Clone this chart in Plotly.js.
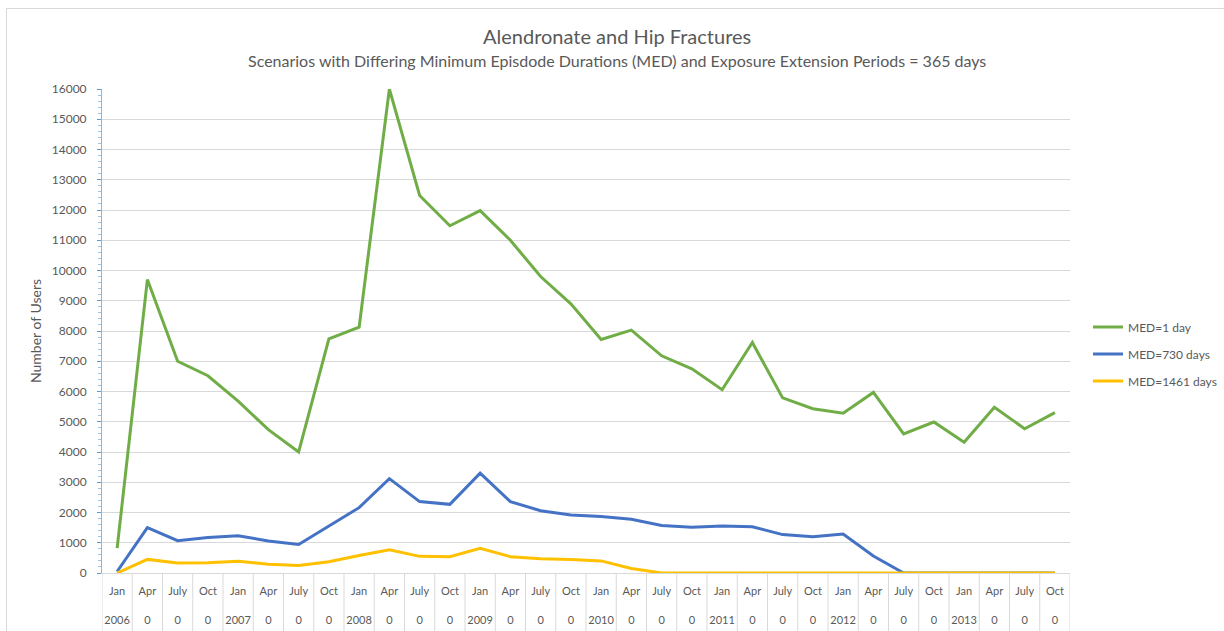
<!DOCTYPE html>
<html>
<head>
<meta charset="utf-8">
<script src="https://cdn.plot.ly/plotly-3.0.1.min.js"></script>
<style>
  html, body { margin: 0; padding: 0; overflow: hidden; background: #fff; }
  #chart { width: 1224px; height: 631px; position: absolute; left: 0; top: 0; }
  #frame { position: absolute; left: 6px; top: 8px; width: 1300px; height: 700px;
           border: 1px solid #d9d9d9; pointer-events: none; }
</style>
</head>
<body>
<div id="chart"></div>
<div id="frame"></div>
<script>
// ---- data ----
const months = ["Jan","Apr","July","Oct","Jan","Apr","July","Oct","Jan","Apr","July","Oct",
                "Jan","Apr","July","Oct","Jan","Apr","July","Oct","Jan","Apr","July","Oct",
                "Jan","Apr","July","Oct","Jan","Apr","July","Oct"];
const yearLabels = ["2006","0","0","0","2007","0","0","0","2008","0","0","0",
                    "2009","0","0","0","2010","0","0","0","2011","0","0","0",
                    "2012","0","0","0","2013","0","0","0"];
const categories = months.map((m, i) => m + " Q" + i);

const med1 = [820, 9700, 7000, 6520, 5680, 4740, 4000, 7740, 8130, 16000, 12480, 11480,
              11980, 11000, 9800, 8900, 7720, 8030, 7180, 6750, 6060, 7620, 5790, 5430,
              5280, 5970, 4600, 4990, 4320, 5480, 4770, 5300];
const med730 = [50, 1500, 1070, 1170, 1230, 1060, 940, 1540, 2160, 3120, 2360, 2270,
                3300, 2360, 2060, 1920, 1870, 1780, 1570, 1510, 1550, 1530, 1270, 1200,
                1290, 560, 0, 0, 0, 0, 0, 0];
const med1461 = [0, 450, 330, 340, 390, 290, 250, 370, 580, 770, 550, 540,
                 820, 540, 470, 450, 400, 150, 0, 0, 0, 0, 0, 0,
                 0, 0, 0, 0, 0, 0, 0, 0];
const seriesNames = ["MED=1 day", "MED=730 days", "MED=1461 days"];
const seriesColors = ["#70ad47", "#4472c4", "#ffc000"];

// ---- chart ----
const tickText = months.map((m, i) => m + "<br>\u00a0<br>" + yearLabels[i]);

const font = "Lato, 'Open Sans', sans-serif";
const traces = [med1, med730, med1461].map((vals, k) => ({
  type: "scatter",
  mode: "lines",
  x: categories,
  y: vals,
  name: seriesNames[k],
  legendgroup: "g" + k,
  line: { color: seriesColors[k], width: 3 },
  hoverinfo: "x+y+name"
}));

// category separators in the label band (Excel-style)
const separators = [];
for (let i = 0; i <= categories.length; i++) {
  separators.push({
    type: "line", xref: "x", yref: "paper",
    x0: i - 0.5, x1: i - 0.5, y0: 0, y1: -0.125,
    line: { color: "#d9d9d9", width: 1 }, layer: "below"
  });
}

const layout = {
  width: 1224,
  height: 631,
  margin: { l: 102, r: 154, t: 89, b: 58, autoexpand: false },
  paper_bgcolor: "rgba(0,0,0,0)",
  plot_bgcolor: "#fff",
  font: { family: font, color: "#595959", size: 11 },
  showlegend: true,
  legend: {
    x: 1.0186, xanchor: "left",
    y: 0.4525, yanchor: "middle",
    font: { family: font, size: 12, color: "#595959" },
    tracegroupgap: 8,
    bgcolor: "rgba(0,0,0,0)"
  },
  xaxis: {
    type: "category",
    range: [-0.5, categories.length - 0.5],
    tickmode: "array",
    tickvals: categories,
    ticktext: tickText,
    tickangle: 0,
    ticks: "",
    ticklabelstandoff: 8,
    showgrid: false,
    showline: true,
    linecolor: "#d9d9d9",
    linewidth: 1,
    zeroline: false,
    tickfont: { family: font, size: 11, color: "#595959" }
  },
  yaxis: {
    range: [0, 16000],
    dtick: 1000,
    tick0: 0,
    tickformat: "d",
    ticks: "outside",
    ticklen: 4,
    tickcolor: "#5b9bd5",
    tickwidth: 1,
    showline: true,
    linecolor: "#8fb4e3",
    linewidth: 1,
    showgrid: true,
    gridcolor: "#d9d9d9",
    gridwidth: 1,
    zeroline: false,
    ticklabelstandoff: 8,
    tickfont: { family: font, size: 12, color: "#595959" },
    minor: { dtick: 200, ticks: "outside", ticklen: 3, tickcolor: "#9dc3e6", showgrid: false },
    title: { text: "Number of Users", font: { family: font, size: 14, color: "#595959" }, standoff: 6 }
  },
  shapes: separators,
  annotations: [
    { text: "Alendronate and Hip Fractures", xref: "paper", yref: "paper",
      x: 0.532, y: (573 - 36) / 484, xanchor: "center", yanchor: "middle", showarrow: false,
      font: { family: font, size: 20, color: "#595959" } },
    { text: "Scenarios with Differing Minimum Episdode Durations (MED) and Exposure Extension Periods = 365 days",
      xref: "paper", yref: "paper",
      x: 0.532, y: (573 - 60) / 484, xanchor: "center", yanchor: "middle", showarrow: false,
      font: { family: font, size: 16, color: "#595959" } }
  ]
};

Plotly.newPlot("chart", traces, layout, { displayModeBar: false, responsive: false });
</script>
</body>
</html>
